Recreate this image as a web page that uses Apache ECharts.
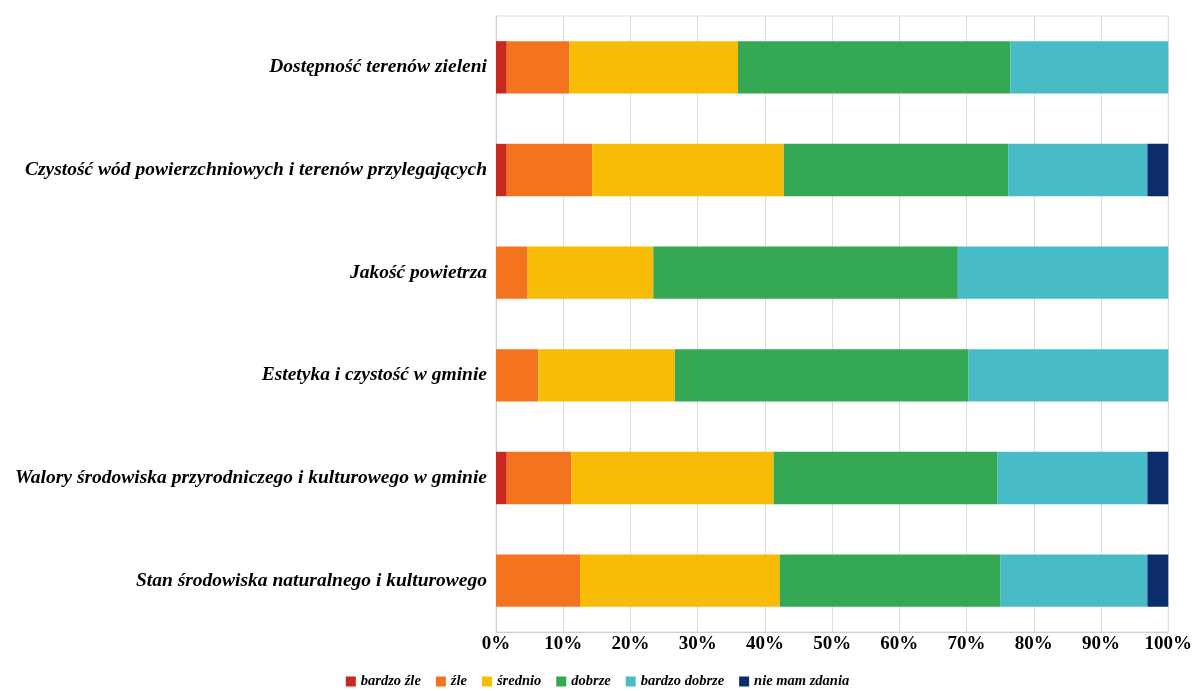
<!DOCTYPE html>
<html>
<head>
<meta charset="utf-8">
<script src="https://cdn.jsdelivr.net/npm/echarts@6/dist/echarts.min.js"></script>
<style>html,body{margin:0;padding:0;background:#fff}#c{width:1195px;height:691px}</style>
</head>
<body>
<div id="c"></div>
<script>
// categories listed bottom to top
var categories = [
  'Stan środowiska naturalnego i kulturowego',
  'Walory środowiska przyrodniczego i kulturowego w gminie',
  'Estetyka i czystość w gminie',
  'Jakość powietrza',
  'Czystość wód powierzchniowych i terenów przylegających',
  'Dostępność terenów zieleni'
];
var seriesNames = ['bardzo źle', 'źle', 'średnio', 'dobrze', 'bardzo dobrze', 'nie mam zdania'];
var bardzoZle    = [0,    1.6,  0,    0,    1.6,  1.6];
var zle          = [12.5, 9.6,  6.3,  4.7,  12.7, 9.3];
var srednio      = [29.7, 30.1, 20.3, 18.7, 28.5, 25.1];
var dobrze       = [32.8, 33.3, 43.7, 45.3, 33.4, 40.5];
var bardzoDobrze = [21.9, 22.3, 29.7, 31.3, 20.7, 23.5];
var nieMamZdania = [3.1,  3.1,  0,    0,    3.1,  0];
var xTicks = [0, 10, 20, 30, 40, 50, 60, 70, 80, 90, 100];

var colors = ['#C8281E', '#F4731F', '#F9BC06', '#34A853', '#47BCC7', '#0D2C6B'];
var values = [bardzoZle, zle, srednio, dobrze, bardzoDobrze, nieMamZdania];
var font = '"Liberation Serif", "Times New Roman", serif';

var chart = echarts.init(document.getElementById('c'));
chart.setOption({
  animation: false,
  color: colors,
  grid: { left: 496, right: 24, top: 16, bottom: 59, show: true, borderColor: '#dcdcdc', borderWidth: 1 },
  legend: {
    bottom: -3, left: 'center',
    itemWidth: 10, itemHeight: 10, itemGap: 15,
    icon: 'rect',
    textStyle: { fontFamily: font, fontStyle: 'italic', fontWeight: 'bold', fontSize: 14.5, color: '#000' },
    data: seriesNames
  },
  xAxis: {
    type: 'value', min: 0, max: 100, interval: 10,
    axisLine: { show: true, lineStyle: { color: '#d0d0d0' } },
    axisTick: { show: false },
    splitLine: { show: true, lineStyle: { color: '#dcdcdc', width: 1 } },
    axisLabel: {
      fontFamily: font, fontWeight: 'bold', fontSize: 19, color: '#000', margin: 3,
      formatter: function (v) { return xTicks.indexOf(v) >= 0 ? v + '%' : ''; }
    }
  },
  yAxis: {
    type: 'category', data: categories,
    axisLine: { show: true, lineStyle: { color: '#d0d0d0' } },
    axisTick: { show: false },
    axisLabel: { fontFamily: font, fontStyle: 'italic', fontWeight: 'bold', fontSize: 19.5, color: '#000', margin: 9 }
  },
  series: seriesNames.map(function (n, i) {
    return { name: n, type: 'bar', stack: 'all', barWidth: '51%', data: values[i] };
  })
});
</script>
</body>
</html>
